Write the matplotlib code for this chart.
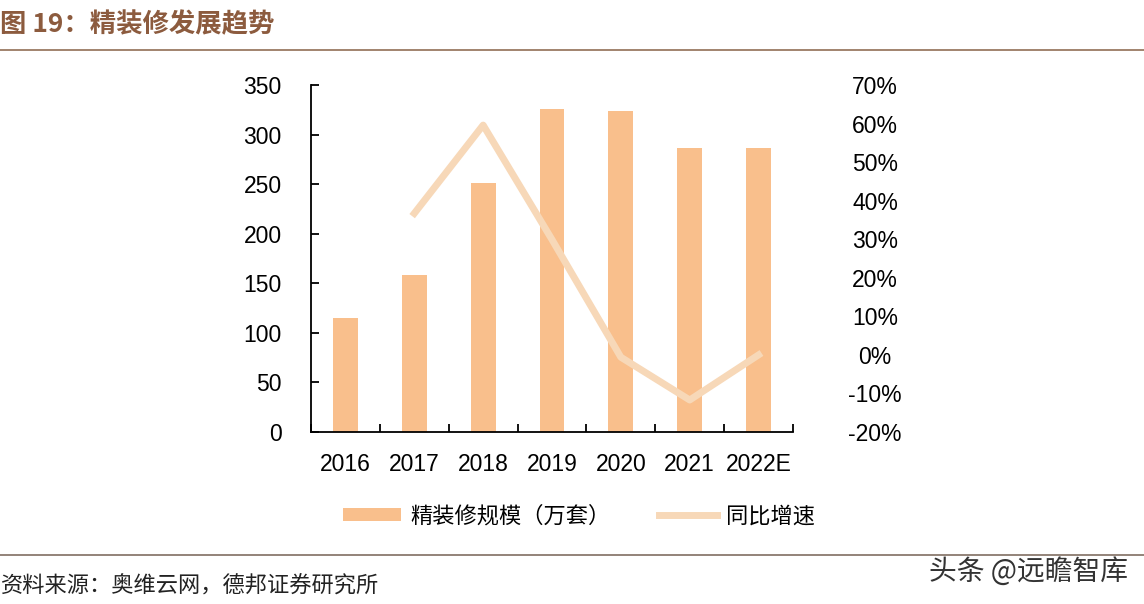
import matplotlib
matplotlib.use("Agg")
import matplotlib.pyplot as plt
from matplotlib.lines import Line2D
from matplotlib.patches import Patch
import numpy as np

plt.rcParams['font.family'] = ['Liberation Sans', 'Noto Sans CJK SC', 'DejaVu Sans']

years = ['2016', '2017', '2018', '2019', '2020', '2021', '2022E']
scale = [115, 158, 251, 326, 324, 286, 286]
growth_years = ['2017', '2018', '2019', '2020', '2021', '2022E']
growth = [36.7, 59.6, 29.9, -0.6, -11.7, 0.0]
left_ticks = [0, 50, 100, 150, 200, 250, 300, 350]
right_ticks = [-20, -10, 0, 10, 20, 30, 40, 50, 60, 70]

bar_color = '#F9BF8C'
line_color = '#F7D8B8'
brown = '#8C5B3E'
cjk = ['Noto Sans CJK SC', 'DejaVu Sans']

fig = plt.figure(figsize=(11.44, 6.04), dpi=100)
W, H = 1144, 604
ax = fig.add_axes([311 / W, 1 - 432 / H, (793 - 311) / W, (432 - 85) / H])
x = np.arange(len(years))
ax.bar(x, scale, width=0.36, color=bar_color, zorder=2)
ax.set_xlim(-0.5, len(years) - 0.5)
ax.set_ylim(0, 350)
ax.set_yticks(left_ticks)
ax.set_xticks(x)
ax.set_xticklabels(years)
ax.set_xticks(np.arange(-0.5, len(years)), minor=True)
ax.tick_params(axis='x', which='major', length=0, pad=15, labelsize=16.5)
ax.tick_params(axis='x', which='minor', length=6, width=1.3, direction='in')
ax.tick_params(axis='y', length=6, width=1.3, direction='in', pad=21, labelsize=16.5)
for s in ['top', 'right']:
    ax.spines[s].set_visible(False)
for s in ['left', 'bottom']:
    ax.spines[s].set_linewidth(1.3)

ax2 = ax.twinx()
gx = [years.index(y) for y in growth_years]
ax2.plot(gx, growth, color=line_color, lw=5, zorder=3)
ax2.set_ylim(-20, 70)
ax2.set_yticks(right_ticks)
ax2.set_yticklabels([f'{v}%' for v in right_ticks])
ax2.tick_params(axis='y', length=0, pad=59, labelsize=16.5)
for lbl in ax2.get_yticklabels():
    lbl.set_horizontalalignment('center')
for s in ax2.spines.values():
    s.set_visible(False)

# title and rules
fig.text(0 / W, 1 - 25 / H, '图 19：精装修发展趋势', fontsize=19, fontweight='bold',
         color=brown, va='center', ha='left', family=cjk)
fig.add_artist(Line2D([0, 1], [1 - 50 / H, 1 - 50 / H], color='#9A7A62', lw=1.3))
fig.add_artist(Line2D([0, 1], [1 - 555 / H, 1 - 555 / H], color='#8A7A6E', lw=1.3))

# legend
handles = [Patch(facecolor=bar_color, edgecolor='none'),
           Line2D([0], [0], color=line_color, lw=5)]
fig.legend(handles, ['精装修规模（万套）', '同比增速'], loc='center',
           bbox_to_anchor=(579 / W, 1 - 516 / H), ncol=2, frameon=False,
           handlelength=2.6, handleheight=0.5, handletextpad=0.4,
           columnspacing=2.2, prop={'family': cjk, 'size': 16})

fig.text(1 / W, 1 - 586 / H, '资料来源：奥维云网，德邦证券研究所', fontsize=16,
         color='#222222', va='center', ha='left', family=cjk)
fig.text(1128 / W, 1 - 572 / H, '头条 @远瞻智库', fontsize=20, color='#333333',
         va='center', ha='right', family=cjk)

fig.savefig('out.png', dpi=100)
